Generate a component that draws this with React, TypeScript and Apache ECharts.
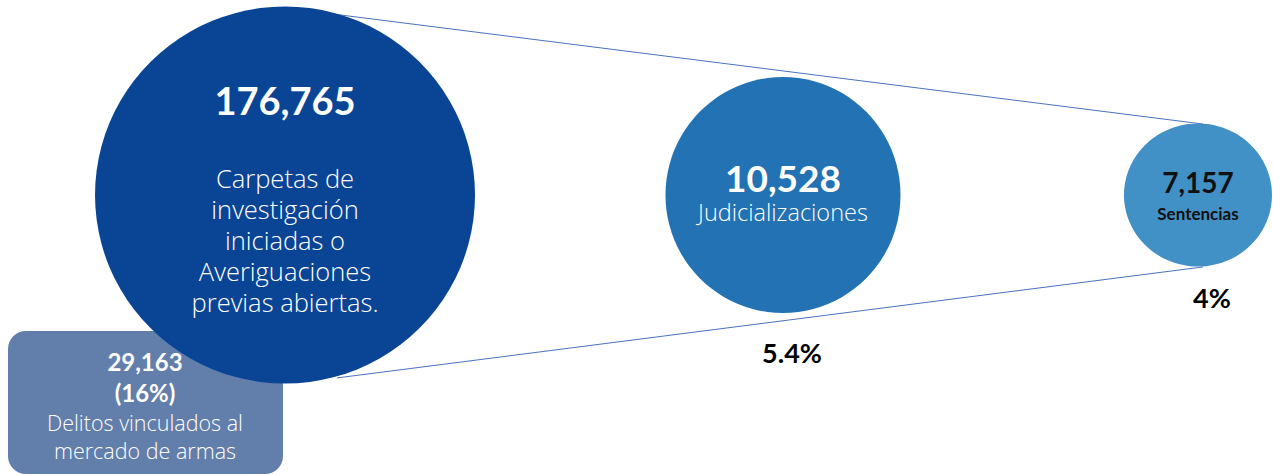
import React, { useEffect, useRef } from "react";
import * as echarts from "echarts";

// ---- data ----
const stages = ["Carpetas de investigación iniciadas o Averiguaciones previas abiertas.", "Judicializaciones", "Sentencias"];
const stageValues = [176765, 10528, 7157];
const stageRates = ["", "5.4%", "4%"];
const subsetValue = 29163;
const subsetShare = "16%";
const subsetLabel = ["Delitos vinculados al", "mercado de armas"];

const fmt = (v: number) => v.toLocaleString("en-US");

export default function App() {
  const ref = useRef<HTMLDivElement>(null);
  useEffect(() => {
    document.body.style.margin = "0";
    const chart = echarts.init(ref.current!, null, { renderer: "svg" });
    const font = "Lato, 'Open Sans', sans-serif";
    const tfont = "'Open Sans', Lato, sans-serif";
    const slot = [0, 6, 11];
    const sizes: any[] = [[380, 377], [235, 236], [148, 143]];
    const colors = ["#0a4595", "#2272b4", "#4190c6"];

    const labels = [
      {
        formatter: `{n|${fmt(stageValues[0])}}\n{g| }\n{t|Carpetas de}\n{t|investigación}\n{t|iniciadas o}\n{t|Averiguaciones}\n{t|previas abiertas.}`,
        offset: [0, 0],
        rich: {
          n: { fontSize: 38, fontWeight: "bold", color: "#fff", lineHeight: 55, fontFamily: font },
          g: { fontSize: 10, lineHeight: 35 },
          t: { fontSize: 25.5, fontWeight: 300, color: "#fff", lineHeight: 31, fontFamily: tfont },
        },
      },
      {
        formatter: `{n|${fmt(stageValues[1])}}\n{t|${stages[1]}}`,
        offset: [0, -3],
        rich: {
          n: { fontSize: 37, fontWeight: "bold", color: "#fff", lineHeight: 40, fontFamily: font },
          t: { fontSize: 23.5, fontWeight: 300, color: "#fff", lineHeight: 30, fontFamily: tfont },
        },
      },
      {
        formatter: `{n|${fmt(stageValues[2])}}\n{t|${stages[2]}}`,
        offset: [0, 1],
        rich: {
          n: { fontSize: 28, fontWeight: "bold", color: "#111", lineHeight: 34, fontFamily: font },
          t: { fontSize: 17, fontWeight: "bold", color: "#111", lineHeight: 28, fontFamily: font },
        },
      },
    ];

    const rateDist = [0, 26, 17];
    const rateOffset = [[0, 0], [9, 0], [14, 0]];

    chart.setOption({
      animation: false,
      grid: { left: 0, right: 0, top: 0, height: 390 },
      xAxis: { type: "value", min: -3.434, max: 11.904, show: false },
      yAxis: { type: "value", min: -1, max: 1, show: false },
      series: [
        {
          type: "line",
          silent: true,
          symbol: "none",
          z: 1,
          lineStyle: { color: "#4a72c0", width: 1 },
          data: [[0.578, 0.928], [11.06, 0.364]],
        },
        {
          type: "line",
          silent: true,
          symbol: "none",
          z: 1,
          lineStyle: { color: "#4a72c0", width: 1 },
          data: [[0.627, -0.938], [11.06, -0.369]],
        },
        {
          type: "scatter",
          z: 2,
          silent: true,
          data: stageValues.map((v, i) => ({
            value: [slot[i], 0],
            symbolSize: sizes[i],
            itemStyle: { color: colors[i], opacity: 1 },
            label: { show: true, position: "inside", ...labels[i] },
          })),
        },
        {
          type: "scatter",
          z: 3,
          silent: true,
          data: stageRates.map((r, i) => ({
            value: [slot[i], 0],
            symbolSize: sizes[i],
            itemStyle: { color: "rgba(0,0,0,0)", opacity: 1 },
            label: {
              show: r !== "",
              position: "bottom",
              distance: rateDist[i],
              offset: rateOffset[i],
              formatter: r,
              fontSize: 27,
              fontWeight: "bold",
              color: "#000",
              opacity: 1,
              fontFamily: font,
            },
          })),
        },
      ],
      graphic: [
        {
          type: "group",
          z: 100,
          children: [
            {
              type: "rect",
              shape: { x: 8, y: 331, width: 275, height: 143, r: 18 },
              style: { fill: "#627eaa" },
            },
            {
              type: "text",
              x: 145,
              y: 346,
              style: {
                text: `{n|${fmt(subsetValue)}}\n{n|(${subsetShare})}\n{t|${subsetLabel[0]}}\n{t|${subsetLabel[1]}}`,
                align: "center",
                verticalAlign: "top",
                rich: {
                  n: { fontSize: 24, fontWeight: "bold", fill: "#fff", lineHeight: 31, fontFamily: font, align: "center" },
                  t: { fontSize: 21.5, fontWeight: 300, fill: "#fff", lineHeight: 28, fontFamily: tfont, align: "center" },
                },
              },
            },
          ],
        },
      ],
    });
    return () => chart.dispose();
  }, []);
  return <div ref={ref} style={{ width: 1273, height: 475 }} />;
}
